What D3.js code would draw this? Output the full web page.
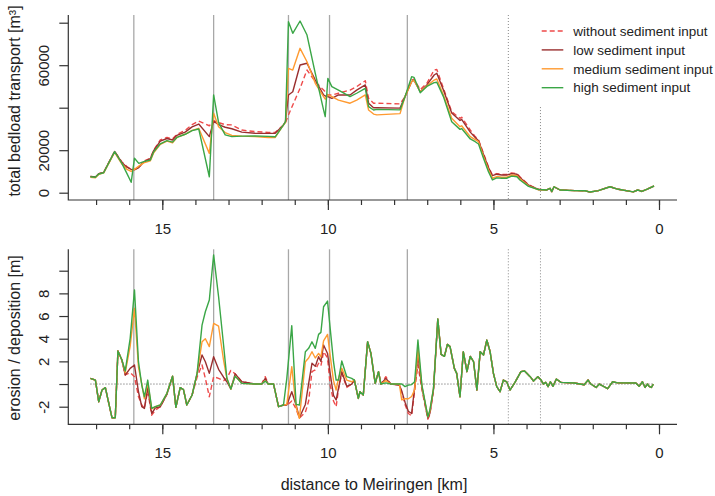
<!DOCTYPE html>
<html>
<head>
<meta charset="utf-8">
<script src="https://cdn.jsdelivr.net/npm/d3@7"></script>
<style>
body { margin: 0; background: #fff; }
svg { font-family: "Liberation Sans", Arial, sans-serif; }
</style>
</head>
<body>
<svg id="chart" width="715" height="496"></svg>
<script>
// distance to Meiringen [km] for the upper panel
var kmTop = [17.17, 17.02, 16.92, 16.77, 16.44, 16.22, 16.07, 15.94, 15.84, 15.71,
  15.56, 15.36, 15.26, 15.06, 14.86, 14.69, 14.56, 14.31, 14.1, 13.9,
  13.58, 13.45, 13.3, 13.1, 12.9, 12.6, 12.2, 11.8, 11.59, 11.34,
  11.28, 11.19, 11.06, 10.84, 10.63, 10.38, 10.13, 10.08, 10.0, 9.88,
  9.68, 9.33, 9.13, 8.87, 8.77, 8.62, 8.52, 7.82, 7.67, 7.47,
  7.4, 7.21, 7.01, 6.79, 6.71, 6.51, 6.26, 6.01, 5.96, 5.7,
  5.55, 5.45, 5.3, 5.15, 5.03, 4.9, 4.75, 4.6, 4.45, 4.29,
  4.2, 3.94, 3.64,
  3.39, 3.29, 3.24, 3.17, 2.99, 2.54, 2.23, 2.08, 1.83, 1.48, 1.23, 0.78, 0.64, 0.52, 0.37, 0.15];

// total bedload transport [m3]; last 16 points are the same for every scenario
var topShared = [1300, 2070, 500, 2800, 1270, 1000, 900, 300, 1000, 2800, 1600, 400, 1270, 600, 1600, 3150];

var topWithout = [7600, 7400, 8900, 9600, 19400, 14500, 12300, 11000, 11000, 12000,
  14800, 16200, 20000, 24800, 26000, 25300, 27500, 29300, 32000, 33700,
  31500, 33900, 33000, 32000, 31900, 29500, 28750, 28400, 28400, 31900,
  33000, 36600, 41300, 49100, 57750, 52200, 48300, 47500, 46000, 46000,
  46800, 48300, 49900, 52700, 44400, 42100, 42100, 41800, 45200, 53000,
  53500, 48500, 51500, 57750, 58000, 49100, 38100, 35000, 35500, 29500,
  26400, 24800, 18500, 12200, 8300, 9000, 8600, 8600, 9300, 9000,
  7500, 3800, 1600];

var topLow = [7600, 7400, 8900, 9600, 19400, 14200, 12000, 11000, 10800, 11800,
  14500, 16000, 19800, 24300, 25500, 24800, 27000, 28500, 31000, 32300,
  26400, 33700, 32000, 30800, 30100, 28500, 27950, 27900, 27950, 31900,
  33500, 46000, 47500, 60100, 60900, 53000, 46000, 45500, 45200, 44400,
  46000, 46000, 48300, 50700, 42100, 40000, 40000, 39800, 45200, 52200,
  53000, 47500, 50700, 55400, 56200, 48300, 37500, 34000, 34500, 28500,
  26000, 24500, 18000, 11800, 8000, 8700, 8300, 8300, 9000, 8700,
  7200, 3600, 1500];

var topMedium = [7200, 7000, 8600, 9300, 19000, 13500, 11000, 10000, 11000, 12500,
  14000, 15000, 18800, 22800, 24300, 23500, 26000, 27500, 29300, 30300,
  18500, 37400, 31000, 28300, 27000, 26600, 26400, 26000, 26000, 31900,
  33000, 58500, 57700, 67950, 61600, 51500, 45200, 44000, 46000, 45200,
  43600, 42100, 43600, 46000, 38900, 37000, 36600, 37200, 45200, 52200,
  53000, 47500, 50200, 53000, 53500, 46000, 35000, 31050, 31500, 26400,
  25000, 24000, 17000, 10800, 6800, 7600, 7300, 7300, 8300, 8000,
  6500, 3200, 1400];

var topHigh = [7500, 7300, 8800, 9400, 19300, 13800, 9100, 4900, 16200, 13800,
  14600, 15400, 19300, 23000, 24500, 23800, 26000, 27500, 29200, 30000,
  7500, 46000, 33000, 27200, 26400, 26600, 26700, 26500, 26300, 31900,
  33400, 80500, 75000, 80800, 74200, 56200, 39000, 35800, 53800, 49900,
  48300, 45200, 46800, 49100, 40500, 38900, 39200, 39000, 45200, 54600,
  54300, 47000, 50000, 51800, 52000, 45200, 33400, 29800, 30200, 25300,
  24000, 22900, 16200, 9900, 6000, 7000, 6800, 6800, 7800, 7500,
  6000, 3000, 1500];

// distance to Meiringen [km] for the lower panel
var kmBot = [17.17, 17.02, 16.92, 16.82, 16.72, 16.52, 16.42, 16.34, 16.22, 16.12,
  15.97, 15.84, 15.72, 15.62, 15.54, 15.44, 15.32, 15.21, 15.06, 14.86,
  14.69, 14.59, 14.46, 14.36, 14.26, 14.1, 13.95, 13.8, 13.7, 13.58,
  13.45, 13.3, 13.15, 13.05, 12.93, 12.8, 12.6, 12.2, 12.0, 11.89,
  11.8, 11.64, 11.49, 11.34, 11.24, 11.09, 10.96, 10.86, 10.68, 10.58,
  10.48, 10.38, 10.28, 10.21, 10.13, 10.01, 9.93, 9.83, 9.75, 9.68,
  9.58, 9.43, 9.28, 9.2, 9.08, 9.03, 8.93, 8.8, 8.7, 8.57,
  8.47, 8.4, 8.25, 8.1, 7.84, 7.77, 7.67, 7.57, 7.47, 7.38,
  7.28, 7.16, 6.98, 6.92, 6.81, 6.68, 6.58, 6.48, 6.39, 6.31,
  6.18, 6.11, 6.01, 5.91, 5.8, 5.7, 5.6, 5.5, 5.4, 5.3,
  5.2, 5.1, 5.0, 4.9, 4.8, 4.7, 4.6, 4.5, 4.35, 4.17,
  4.06, 3.89, 3.79, 3.66, 3.56, 3.49, 3.42, 3.35, 3.28, 3.2,
  3.1, 2.96, 2.56, 2.26, 2.14, 2.06, 1.9, 1.8, 1.55, 1.4,
  1.25, 0.7, 0.6, 0.5, 0.42, 0.35, 0.3, 0.23, 0.17];

// erosion / deposition [m]; last 49 points are the same for every scenario
var botShared = [1.38, 0.94, -1.12, 2.85, 1.09, 2.44, 1.97, -0.53, 2.85, 2.56,
  3.88, 2.85, 0.94, -0.23, -0.68, 0.35, 0.2, -0.53, 0.15, 1.09,
  1.15, 0.65, 0.26, 0.65, 0.35, 0, 0.15, -0.23, 0.2, -0.2,
  0.44, 0.15, 0.09, -0.06, 0.35, 0, -0.3, 0, -0.41, 0.2,
  0.1, 0.09, -0.2, 0.2, -0.3, 0, -0.2, -0.3, 0];

var botWithout = [0.5, 0.35, -1.56, -0.53, -0.32, -2.97, -2.97, 2.91, 2.12, 0.8,
  1.0, 0.65, -1.1, -1.85, -2.15, -0.6, -2.75, -2.3, -2.0, -0.9,
  0.7, -2.06, -0.32, -0.5, -1.85, -0.97, 0.6, 1.68, 0.5, -1.12,
  0.65, 0.5, 0.3, 0.5, 1.2, 0.9, 0.2, 0, 0, 0.65,
  0, 0, -2.0, -1.85, -1.9, -1.5, -2.2, -3.0, -2.5, -1.5,
  1.1, 1.25, 1.83, 1.6, 2.85, 2.3, -0.1, -1.5, -2.0, -0.5,
  0.94, -0.3, 0, 0.35, -1.27, -0.68, -0.97, 3.73, 2.7, 0.06,
  1.09, 0, 0.65, 0, -0.1, -0.7, -1.8, -2.6, -2.8, -0.6,
  1.7, -0.5, -3.1, -2.7, -0.6, 5.74, 2.62, 2.44, 3.5, 3.3];

var botLow = [0.5, 0.35, -1.56, -0.53, -0.32, -2.97, -2.97, 2.91, 2.12, 0.8,
  1.38, 1.68, -0.68, -2.0, -2.15, -0.3, -2.6, -2.1, -2.0, -0.9,
  0.7, -2.06, -0.32, -0.5, -1.85, -0.97, 0.9, 2.56, 1.97, 0.94,
  2.41, 1.3, 0.6, 0.2, -0.44, 0.9, 0.2, 0, 0, 0.5,
  0, 0, -2.0, -1.85, -1.85, -0.68, -1.85, -2.97, -1.8, 0.06,
  1.83, 1.56, 2.41, 2.0, 3.44, 2.7, 0.94, -1.0, -1.41, -0.38,
  1.1, -0.2, 0, 0.35, -1.27, -0.68, -0.97, 3.73, 2.7, 0.06,
  1.09, 0, 0.5, 0, -0.1, -0.6, -1.6, -2.4, -2.6, -0.3,
  2.5, -0.3, -3.0, -2.6, -0.5, 5.74, 2.62, 2.44, 3.5, 3.3];

var botMedium = [0.5, 0.35, -1.56, -0.53, -0.32, -2.97, -2.97, 2.91, 2.12, 1.0,
  3.35, 6.68, 1.5, 0, -1.3, 0.1, -2.2, -2.0, -1.85, -0.82,
  0.7, -2.06, -0.32, -0.5, -1.85, -0.97, 0.9, 3.73, 4.0, 3.3,
  5.35, 5.1, 2.1, 0.5, -0.44, 0.7, 0.06, 0, 0, 0.3,
  0, 0, -2.0, -1.85, -1.8, 1.53, -2.0, -3.03, 1.97, 2.3,
  2.85, 2.3, 2.7, 2.4, 3.8, 4.38, 2.5, 0.3, -0.53, 0.5,
  1.4, 0.35, 0.2, 0.35, -1.27, -0.68, -0.97, 3.73, 2.7, 0.06,
  1.09, 0, 0.3, 0, 0, -1.4, -1.3, -1.3, -1.1, -0.5,
  3.1, -0.2, -2.9, -2.4, -0.4, 5.74, 2.62, 2.44, 3.5, 3.3];

var botHigh = [0.5, 0.35, -1.56, -0.53, -0.32, -2.97, -2.97, 2.91, 2.12, 1.15,
  4.03, 8.3, 1.97, -0.09, -1.12, 0.35, -2.15, -2.0, -1.85, -0.82,
  0.7, -2.06, -0.32, -0.5, -1.85, -0.97, 0.94, 5.2, 6.38, 7.41,
  11.4, 7.7, 3.44, 0.5, -0.44, 0.7, 0.06, 0, 0, 0.26,
  0, 0, -2.0, -1.85, 0.5, 5.15, -1.79, -1.85, 2.85, 3.15,
  3.73, 3.15, 4.38, 4.56, 6.82, 7.32, 4.91, 1.97, 0.35, 0.35,
  2.03, 0.65, 0.5, 0.35, -1.27, -0.68, -0.97, 3.73, 2.7, 0.06,
  1.09, 0, 0.1, 0, 0, 0, -0.23, -0.1, -0.05, 0.2,
  3.88, -0.09, -2.88, -2.3, -0.38, 5.74, 2.62, 2.44, 3.5, 3.3];

// marker positions along the river [km]
var solidKm = [15.86, 13.45, 11.19, 9.95, 7.6];
var dottedKm = [4.55, 3.58];

var seriesNames = ["without sediment input", "low sediment input", "medium sediment input", "high sediment input"];
var seriesColors = ["#ee4a4a", "#9a2f2f", "#ff9a30", "#3aa646"];
var seriesDash = ["5,3", null, null, null];
var topSeries = [topWithout, topLow, topMedium, topHigh].map(function(a) { return a.concat(topShared); });
var botSeries = [botWithout, botLow, botMedium, botHigh].map(function(a) { return a.concat(botShared); });

var svg = d3.select("#chart");
var left = 68.3, right = 677;

var x = d3.scaleLinear().domain([0, 15]).range([659, 162.3]);

function drawPanel(cfg) {
    var g = svg.append("g");
    var y = cfg.y;

    // gray marker lines
    solidKm.forEach(function(k) {
        g.append("line").attr("x1", x(k)).attr("x2", x(k))
            .attr("y1", cfg.top).attr("y2", cfg.bottom)
            .attr("stroke", "#a8a8a8").attr("stroke-width", 1.3);
    });
    dottedKm.forEach(function(k, i) {
        g.append("line").attr("x1", x(k)).attr("x2", x(k))
            .attr("y1", cfg.dottedTop[i]).attr("y2", cfg.bottom)
            .attr("stroke", "#888").attr("stroke-width", 1)
            .attr("stroke-dasharray", "1,2");
    });

    if (cfg.zeroLine) {
        var ext = d3.extent(cfg.km);
        g.append("line").attr("x1", x(ext[1])).attr("x2", x(ext[0]))
            .attr("y1", y(0)).attr("y2", y(0))
            .attr("stroke", "#555").attr("stroke-width", 1)
            .attr("stroke-dasharray", "1,2");
    }

    var line = d3.line().x(function(d) { return x(d[0]); }).y(function(d) { return y(d[1]); });
    cfg.series.forEach(function(vals, i) {
        var pts = cfg.km.map(function(k, j) { return [k, vals[j]]; });
        g.append("path").attr("d", line(pts))
            .attr("fill", "none")
            .attr("stroke", seriesColors[i])
            .attr("stroke-width", 1.4)
            .attr("stroke-linejoin", "round")
            .attr("stroke-dasharray", seriesDash[i]);
    });

    // L-shaped box
    g.append("path")
        .attr("d", "M" + left + "," + cfg.top + "V" + cfg.bottom + "H" + right)
        .attr("fill", "none").attr("stroke", "#333").attr("stroke-width", 1.2);

    // x axis, minor and major ticks
    var xMinor = d3.axisBottom(x).tickValues(d3.range(0, 18)).tickSize(5).tickFormat("");
    var xMajor = d3.axisBottom(x).tickValues([0, 5, 10, 15]).tickSize(10).tickPadding(13);
    [xMinor, xMajor].forEach(function(ax) {
        var a = g.append("g").attr("transform", "translate(0," + cfg.bottom + ")").call(ax);
        a.select(".domain").remove();
        a.selectAll("line").attr("stroke", "#333").attr("stroke-width", 1.2);
        a.selectAll("text").attr("font-size", 15).attr("fill", "#222")
            .attr("font-family", null);
    });

    // y axis with rotated labels
    var yAx = d3.axisLeft(y).tickValues(cfg.yTicks).tickSize(9)
        .tickFormat(function(d) { return cfg.yLabels.indexOf(d) >= 0 ? d : ""; });
    var ya = g.append("g").attr("transform", "translate(" + left + ",0)").call(yAx);
    ya.select(".domain").remove();
    ya.selectAll("line").attr("stroke", "#333").attr("stroke-width", 1.2);
    ya.selectAll("text")
        .attr("x", null).attr("dy", null)
        .attr("text-anchor", "middle")
        .attr("transform", "translate(-19,0) rotate(-90)")
        .attr("font-size", 15).attr("fill", "#222")
        .attr("font-family", null);

    svg.append("text")
        .attr("transform", "translate(20," + cfg.titleY + ") rotate(-90)")
        .attr("text-anchor", "middle")
        .attr("font-size", 16).attr("fill", "#222")
        .text(cfg.title);
}

// upper panel: bedload transport
var yTop = d3.scaleLinear().domain([0, 80000]).range([192.7, 22.7]);
drawPanel({
    y: yTop, top: 15, bottom: 200, km: kmTop, series: topSeries,
    dottedTop: [15, yTop(40300)],
    yTicks: [0, 20000, 40000, 60000, 80000], yLabels: [0, 20000, 60000],
    title: "total bedload transport [m³]", titleY: 101
});

// lower panel: erosion / deposition
var yBot = d3.scaleLinear().domain([-2, 10]).range([406.7, 270.7]);
drawPanel({
    y: yBot, top: 249.3, bottom: 424.3, km: kmBot, series: botSeries,
    dottedTop: [249.3, 249.3], zeroLine: true,
    yTicks: [-2, 0, 2, 4, 6, 8, 10], yLabels: [-2, 2, 4, 6, 8],
    title: "erosion / deposition [m]", titleY: 338
});

svg.append("text")
    .attr("x", 374).attr("y", 490)
    .attr("text-anchor", "middle")
    .attr("font-size", 16).attr("fill", "#222")
    .text("distance to Meiringen [km]");

// legend
var legend = svg.append("g");
seriesNames.forEach(function(name, i) {
    var yy = 31 + i * 18.9;
    legend.append("line").attr("x1", 541.7).attr("x2", 563.3)
        .attr("y1", yy).attr("y2", yy)
        .attr("stroke", seriesColors[i]).attr("stroke-width", 1.4)
        .attr("stroke-dasharray", seriesDash[i]);
    legend.append("text").attr("x", 573.3).attr("y", yy).attr("dy", "0.35em")
        .attr("font-size", 13.5).attr("fill", "#222")
        .text(name);
});
</script>
</body>
</html>
